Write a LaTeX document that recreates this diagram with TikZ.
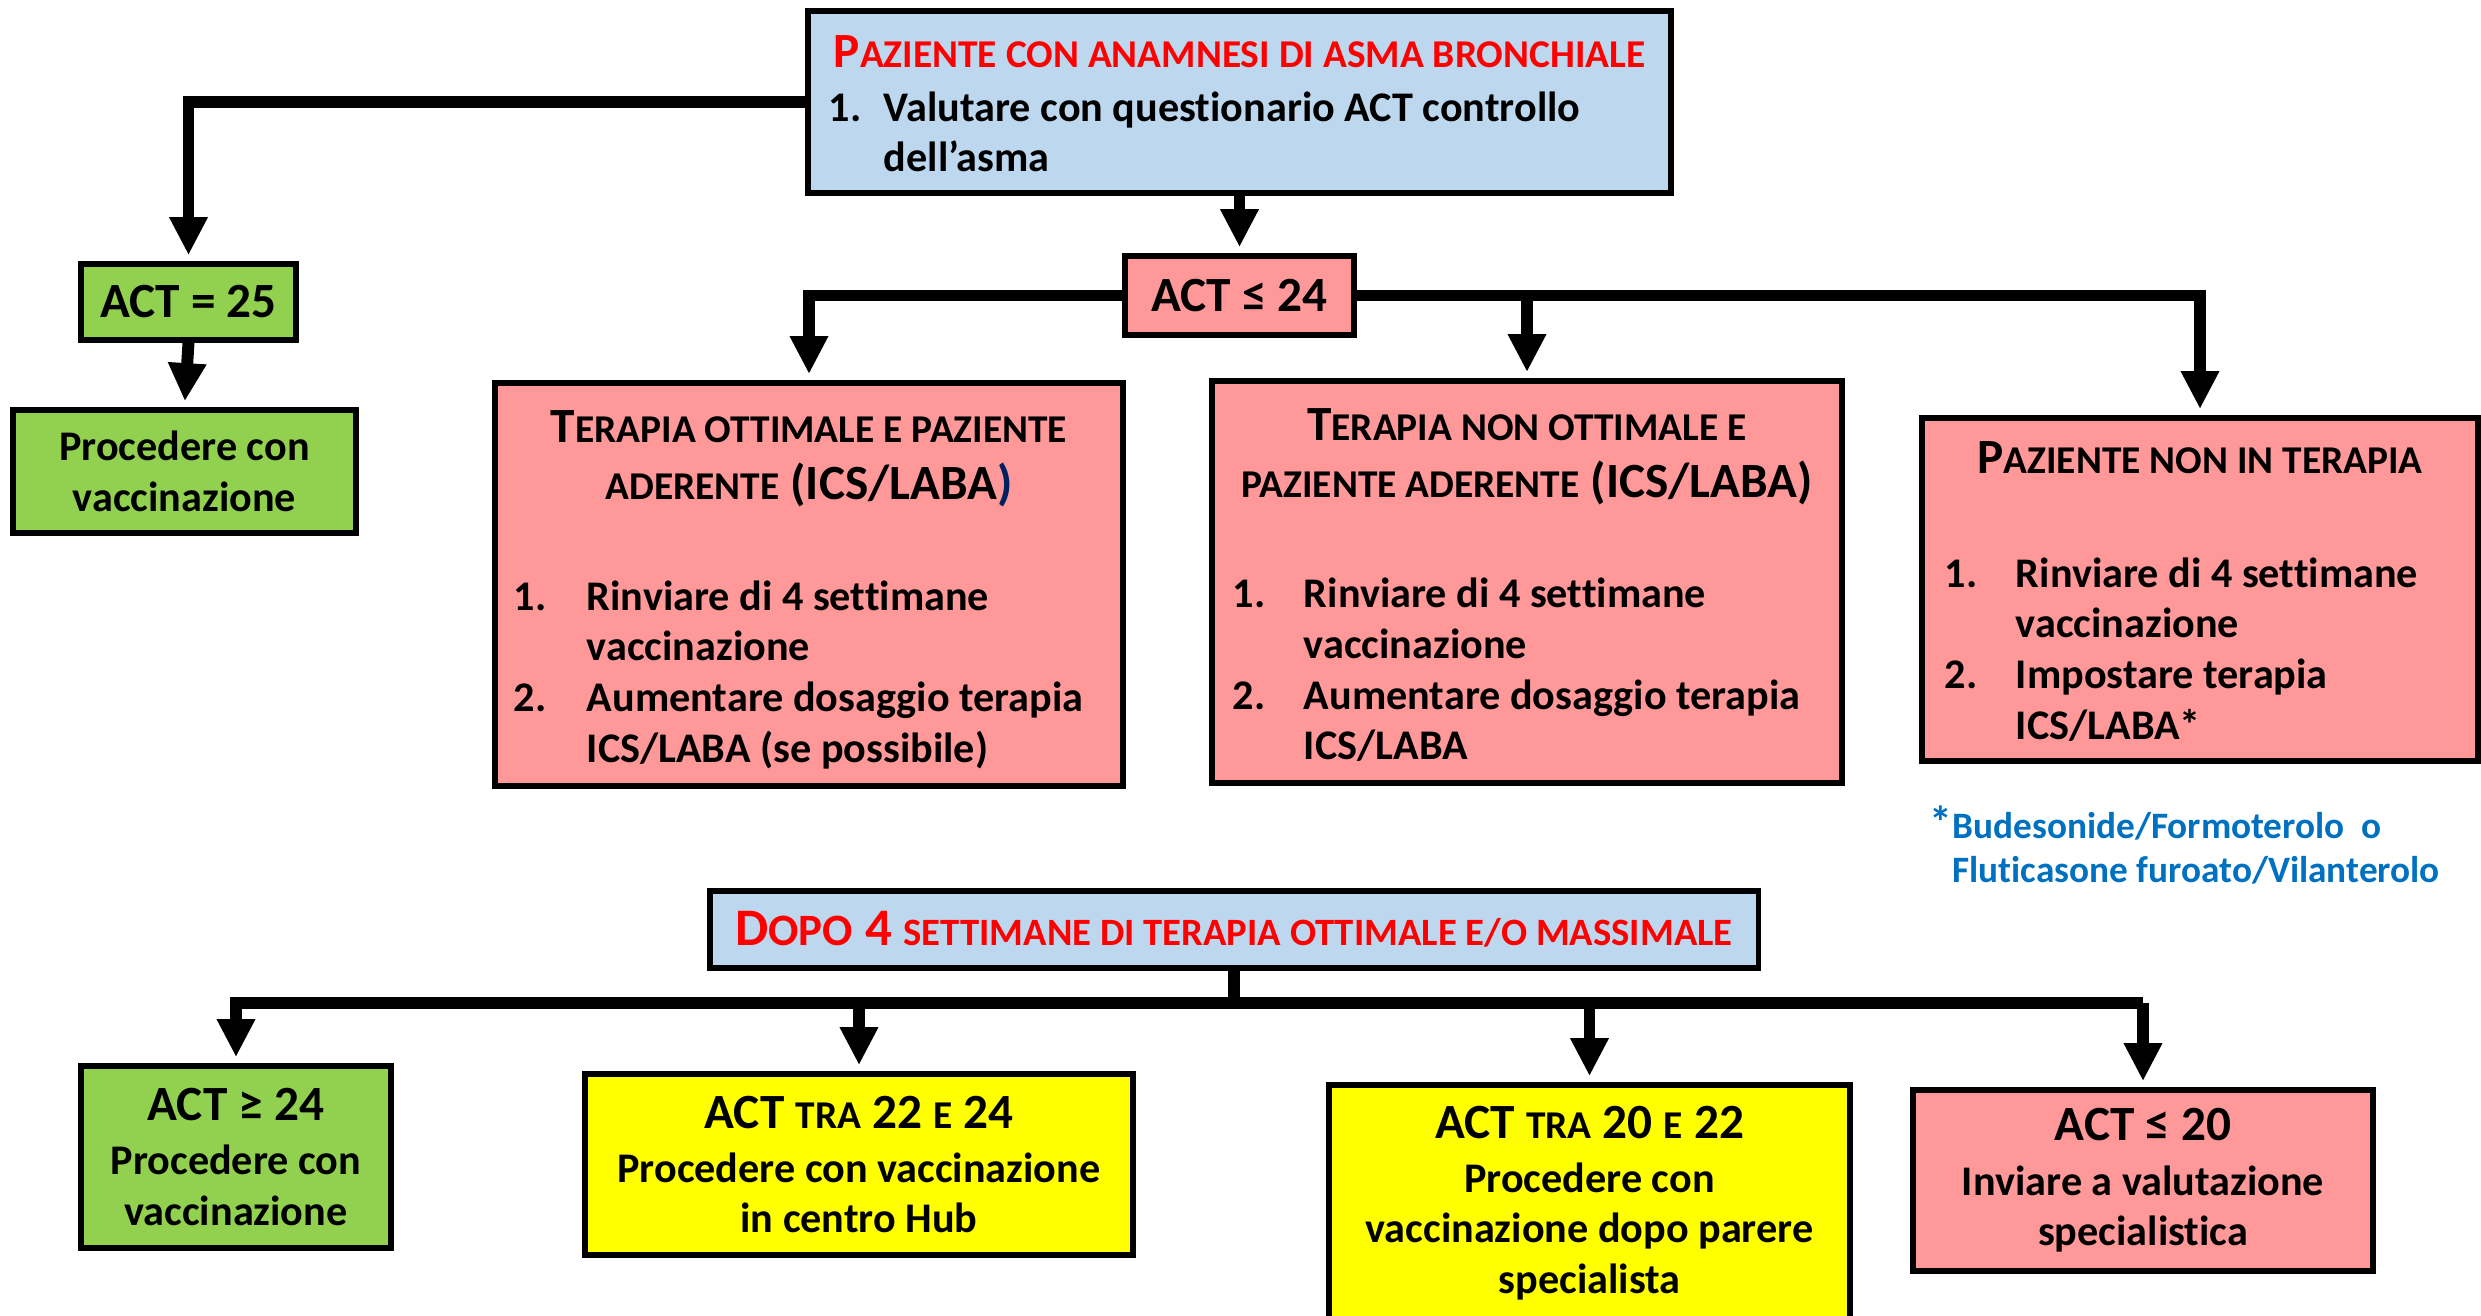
\documentclass[tikz,border=0pt]{standalone}
\usepackage{fontspec}
\setmainfont{Carlito}[Ligatures={TeX,NoCommon}]
\usetikzlibrary{arrows.meta}

\definecolor{boxblue}{HTML}{BDD7EE}
\definecolor{boxgreen}{HTML}{92D050}
\definecolor{boxpink}{HTML}{FF9999}
\definecolor{boxyellow}{HTML}{FFFF00}
\definecolor{headred}{HTML}{FF0000}
\definecolor{noteblue}{HTML}{0070C0}
\definecolor{parenblue}{HTML}{002060}

\newcommand{\smc}[1]{\scalebox{0.8}{\MakeUppercase{#1}}}
\newcommand{\hd}{\fontsize{14}{16.8}\selectfont}
\newcommand{\pushdown}[1]{\rule{0pt}{#1}}

\begin{document}
\begin{tikzpicture}[x=0.01cm,y=-0.01cm,>={Triangle[length=3.8mm,width=3.6mm]},
    box/.style={draw,line width=1.6pt,inner sep=0pt,align=center,
        font=\fontsize{12}{14.4}\selectfont\bfseries},
    conn/.style={line width=3.4pt,shorten >=0.6mm}]
\useasboundingbox (0,0) rectangle (2481,1316);

\node[box,fill=boxblue,minimum width=8.63cm,minimum height=1.82cm] (top) at (1239.5,102)
    {\pushdown{0.5cm}{\hd\color{headred}P\smc{aziente con anamnesi di asma bronchiale}}\\[1pt]
     \begin{tabular}[t]{@{}p{0.55cm}@{}p{7.66cm}@{}}
     1.&Valutare con questionario ACT controllo\newline dell’asma
     \end{tabular}};

\node[box,fill=boxpink,minimum width=2.29cm,minimum height=0.79cm] (act24) at (1239.5,295.5) {\hd ACT ≤ 24};
\node[box,fill=boxgreen,minimum width=2.15cm,minimum height=0.76cm] (act25) at (188.5,302) {\hd ACT = 25};
\node[box,fill=boxgreen,minimum width=3.43cm,minimum height=1.23cm] (proc) at (184.5,471.5) {Procedere con\\vaccinazione};

\node[box,fill=boxpink,minimum width=6.28cm,minimum height=4.03cm] (ott) at (809,584.5)
    {\pushdown{0.51cm}{\hd T\smc{erapia ottimale e paziente}}\\[1.8pt]
     {\hd\smc{aderente} (ICS/LABA{\color{parenblue})}}\\[0.6cm]
     \begin{tabular}[t]{@{}p{0.73cm}@{}p{5.17cm}@{}}
     1.&Rinviare di 4 settimane\newline vaccinazione\\
     2.&Aumentare dosaggio terapia\newline ICS/LABA (se possibile)
     \end{tabular}};

\node[box,fill=boxpink,minimum width=6.30cm,minimum height=4.02cm] (nonott) at (1527,582)
    {\pushdown{0.51cm}{\hd T\smc{erapia non ottimale e}}\\[1.8pt]
     {\hd\smc{paziente aderente} (ICS/LABA)}\\[0.6cm]
     \begin{tabular}[t]{@{}p{0.71cm}@{}p{5.17cm}@{}}
     1.&Rinviare di 4 settimane\newline vaccinazione\\
     2.&Aumentare dosaggio terapia\newline ICS/LABA
     \end{tabular}};

\node[box,fill=boxpink,minimum width=5.56cm,minimum height=3.43cm] (nonter) at (2200,589.5)
    {\pushdown{0.49cm}{\hd P\smc{aziente non in terapia}}\\[0.63cm]
     \begin{tabular}[t]{@{}p{0.71cm}@{}p{4.39cm}@{}}
     1.&Rinviare di 4 settimane\newline vaccinazione\\
     2.&Impostare terapia\newline ICS/LABA*
     \end{tabular}};

\node[anchor=west,align=left,inner sep=0pt,text=noteblue,font=\fontsize{10.6}{12.6}\selectfont\bfseries] (note) at (1929,845)
    {{\fontsize{13}{13}\selectfont *}Budesonide/Formoterolo~~o\\
     \phantom{\fontsize{13}{13}\selectfont *}Fluticasone furoato/Vilanterolo};

\node[box,fill=boxblue,minimum width=10.48cm,minimum height=0.77cm] (dopo) at (1234,929.5)
    {\color{headred}\fontsize{15}{18}\selectfont D\scalebox{0.85}{OPO} 4
     {\fontsize{13.75}{16.5}\selectfont\smc{settimane di terapia ottimale e/o massimale}}};
\coordinate (bar) at (1234,1003);

\node[box,fill=boxgreen,minimum width=3.10cm,minimum height=1.82cm] (b1) at (236,1157)
    {{\hd ACT ≥ 24}\\[1pt]Procedere con\\vaccinazione};
\node[box,fill=boxyellow,minimum width=5.48cm,minimum height=1.81cm] (b2) at (859,1164.5)
    {{\hd ACT \smc{tra} 22 \smc{e} 24}\\[1pt]Procedere con vaccinazione\\in centro Hub};
\node[box,fill=boxyellow,minimum width=5.21cm,minimum height=2.36cm] (b3) at (1589.5,1203)
    {{\hd ACT \smc{tra} 20 \smc{e} 22}\\[1pt]Procedere con\\vaccinazione dopo parere\\specialista};
\node[box,fill=boxpink,minimum width=4.60cm,minimum height=1.81cm] (b4) at (2143,1180.5)
    {{\hd ACT ≤ 20}\\[1pt]Inviare a valutazione\\specialistica};

% connettori
\draw[conn,->] (top.west) -| (act25.north);
\draw[conn,->] (top.south) -- (act24.north);
\draw[conn,->] (act25.south) -- (proc.north);
\draw[conn,->] (act24.west) -| (ott.north);
\draw[conn,->] (act24.east) -| (nonter.north);
\draw[conn,->] (nonott.north |- act24.east) -- (nonott.north);

\draw[conn] (dopo.south) -- (bar);
\draw[conn,line cap=rect] (b1.north |- bar) -- (b4.north |- bar);
\foreach \b in {b1,b2,b3,b4}
{
    \draw[conn,->] (\b.north |- bar) -- (\b.north);
}

\end{tikzpicture}
\end{document}
